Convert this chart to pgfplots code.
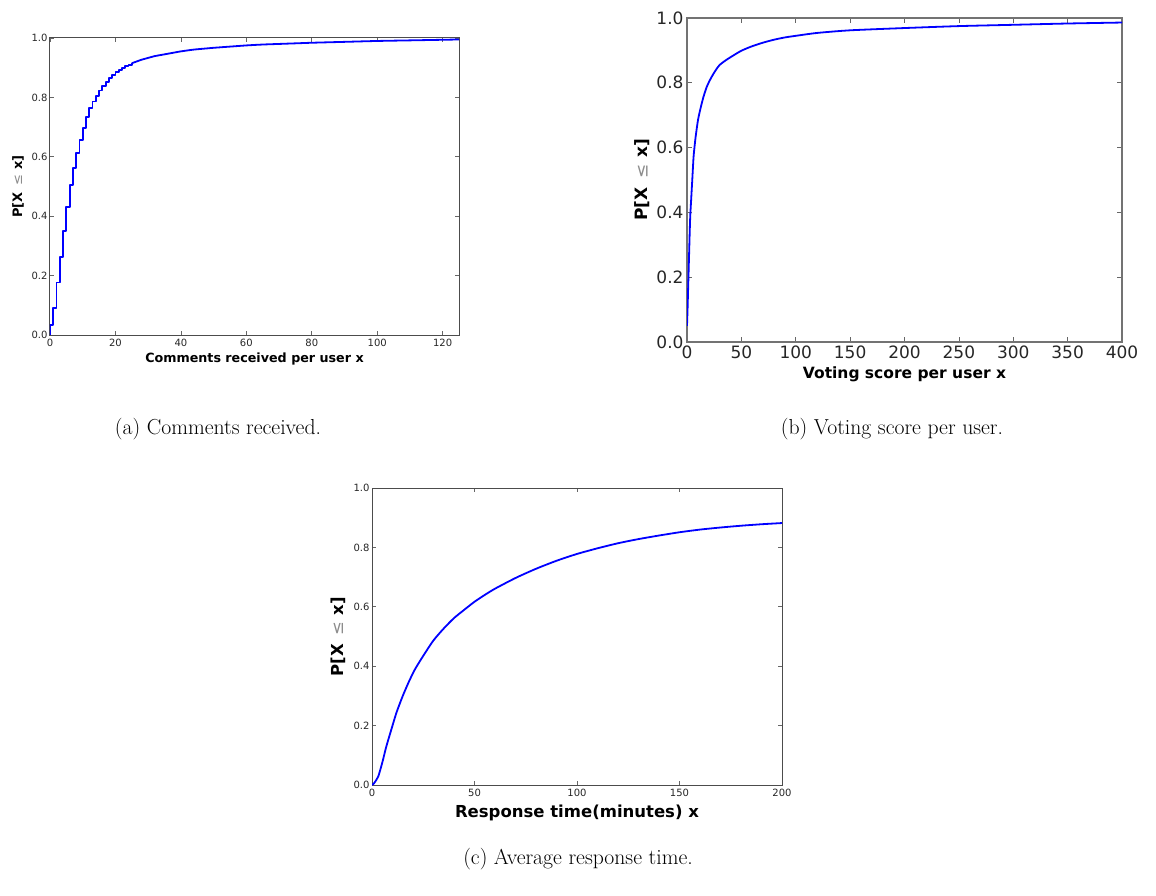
\documentclass[border=0pt]{standalone}
\usepackage{pgfplots}
\pgfplotsset{compat=1.18}
\usepackage{fontspec}
\newfontfamily\dejavu{DejaVu Sans}

% y label shared by the three CDF panels
\newcommand{\cdflabel}{P[X\hspace{0.5em}{\mdseries\color{black!45}≤}\hspace{0.4em}x]}

\pgfplotsset{
  cdf/.style={
    scale only axis,
    axis line style={black!70, line width=1pt},
    tick style={black!60, line width=0.7pt},
    tick align=inside,
    major tick length=4pt,
    ymin=0, ymax=1,
    ytick={0,0.2,0.4,0.6,0.8,1},
    yticklabel style={/pgf/number format/fixed, /pgf/number format/fixed zerofill, /pgf/number format/precision=1},
    /pgf/number format/assume math mode=true,
    tick label style={text=black!85},
    xlabel style={at={(axis description cs:0.5,0)}, anchor=base},
    ylabel style={anchor=center},
    every axis plot/.append style={blue, line width=1.8pt, line join=round},
  },
  small/.style={
    tick label style={font=\dejavu\fontsize{10}{12}\selectfont},
    xticklabel style={yshift=-1pt},
    yticklabel style={xshift=1pt},
  },
}

\begin{document}
\begin{tikzpicture}
\useasboundingbox (0,0) rectangle (1156pt,-896pt);

% (a) comments received per user
\begin{axis}[cdf, small,
  at={(50pt,-335pt)}, anchor=south west,
  width=409pt, height=297pt,
  xmin=0, xmax=125, xtick={0,20,40,60,80,100,120},
  xlabel={Comments received per user x},
  xlabel style={font=\dejavu\bfseries\fontsize{12.7}{15}\selectfont, yshift=-27.5pt},
  ylabel={\cdflabel},
  ylabel style={font=\dejavu\bfseries\fontsize{13}{15}\selectfont, at={(axis description cs:-0.078,0.5)}},
]
% integer-valued counts: staircase up to 25, then the tail
\addplot[const plot] coordinates {
  (0,0) (0,0.034) (1,0.092) (2,0.177) (3,0.263) (4,0.349) (5,0.431)
  (6,0.504) (7,0.563) (8,0.613) (9,0.657) (10,0.698) (11,0.733)
  (12,0.763) (13,0.786) (14,0.805) (15,0.823) (16,0.839) (17,0.853)
  (18,0.866) (19,0.876) (20,0.886) (21,0.893) (22,0.899) (23,0.905)
  (24,0.910) (25,0.915)
};
\addplot[smooth, tension=0.4] coordinates {
  (25,0.915) (26,0.919) (27,0.923) (28,0.927) (29,0.930)
  (30,0.933) (32,0.939) (34,0.943) (36,0.947) (38,0.951) (40,0.955)
  (44,0.961) (48,0.965) (50,0.967) (55,0.971) (60,0.975)
  (65,0.978) (70,0.980) (75,0.982) (80,0.984) (90,0.987) (100,0.990)
  (110,0.992) (120,0.994) (125,0.995)
};
\end{axis}

% (b) voting score per user
\begin{axis}[cdf,
  at={(687pt,-342pt)}, anchor=south west,
  width=435pt, height=324pt,
  axis line style={black!55, line width=1.4pt},
  major tick length=5pt,
  tick label style={font=\dejavu\fontsize{17}{20}\selectfont},
  xmin=0, xmax=400, xtick={0,50,100,150,200,250,300,350,400},
  xlabel={Voting score per user x},
  xlabel style={font=\dejavu\bfseries\fontsize{15.5}{18}\selectfont, yshift=-36pt},
  ylabel={\cdflabel},
  ylabel style={font=\dejavu\bfseries\fontsize{17}{20}\selectfont, at={(axis description cs:-0.103,0.5)}},
]
\addplot[smooth, tension=0.4] coordinates {
  (0,0.05) (0.5,0.10) (1,0.16) (1.5,0.22) (2,0.28) (2.5,0.34) (3,0.39)
  (4,0.45) (5,0.51) (6,0.57) (7,0.605) (8,0.635) (10,0.683) (12,0.715)
  (15,0.755) (18,0.786) (21,0.808) (24,0.826) (27,0.842) (30,0.855)
  (35,0.868) (40,0.879) (50,0.899) (60,0.913) (70,0.924) (80,0.933)
  (90,0.940) (100,0.945) (120,0.954) (150,0.962) (200,0.969)
  (250,0.975) (300,0.979) (350,0.983) (400,0.986)
};
\end{axis}

% (c) average response time
\begin{axis}[cdf, small,
  at={(372pt,-785pt)}, anchor=south west,
  width=410pt, height=297pt,
  xmin=0, xmax=200, xtick={0,50,100,150,200},
  xlabel={Response time(minutes) x},
  xlabel style={font=\dejavu\bfseries\fontsize{16.5}{19}\selectfont, yshift=-32pt},
  ylabel={\cdflabel},
  ylabel style={font=\dejavu\bfseries\fontsize{16.5}{19}\selectfont, at={(axis description cs:-0.083,0.5)}},
]
\addplot[smooth, tension=0.4] coordinates {
  (0,0) (1,0.006) (3,0.028) (5,0.075) (7,0.13) (10,0.2) (12,0.245)
  (15,0.3) (18,0.348) (21,0.39) (25,0.435) (30,0.487) (35,0.527)
  (40,0.562) (45,0.59) (50,0.617) (55,0.64) (60,0.661) (70,0.697)
  (80,0.728) (90,0.755) (100,0.778) (110,0.797) (120,0.814)
  (130,0.828) (140,0.840) (150,0.851) (160,0.860) (170,0.867)
  (180,0.873) (190,0.878) (200,0.882)
};
\end{axis}

% sub-figure captions
\node[anchor=base, font=\fontsize{21.7}{26}\selectfont] at (218pt,-434pt) {(a) Comments received.};
\node[anchor=base, font=\fontsize{21.7}{26}\selectfont] at (892pt,-434pt) {(b) Voting score per user.};
\node[anchor=base, font=\fontsize{21.7}{26}\selectfont] at (578pt,-864pt) {(c) Average response time.};
\end{tikzpicture}
\end{document}
